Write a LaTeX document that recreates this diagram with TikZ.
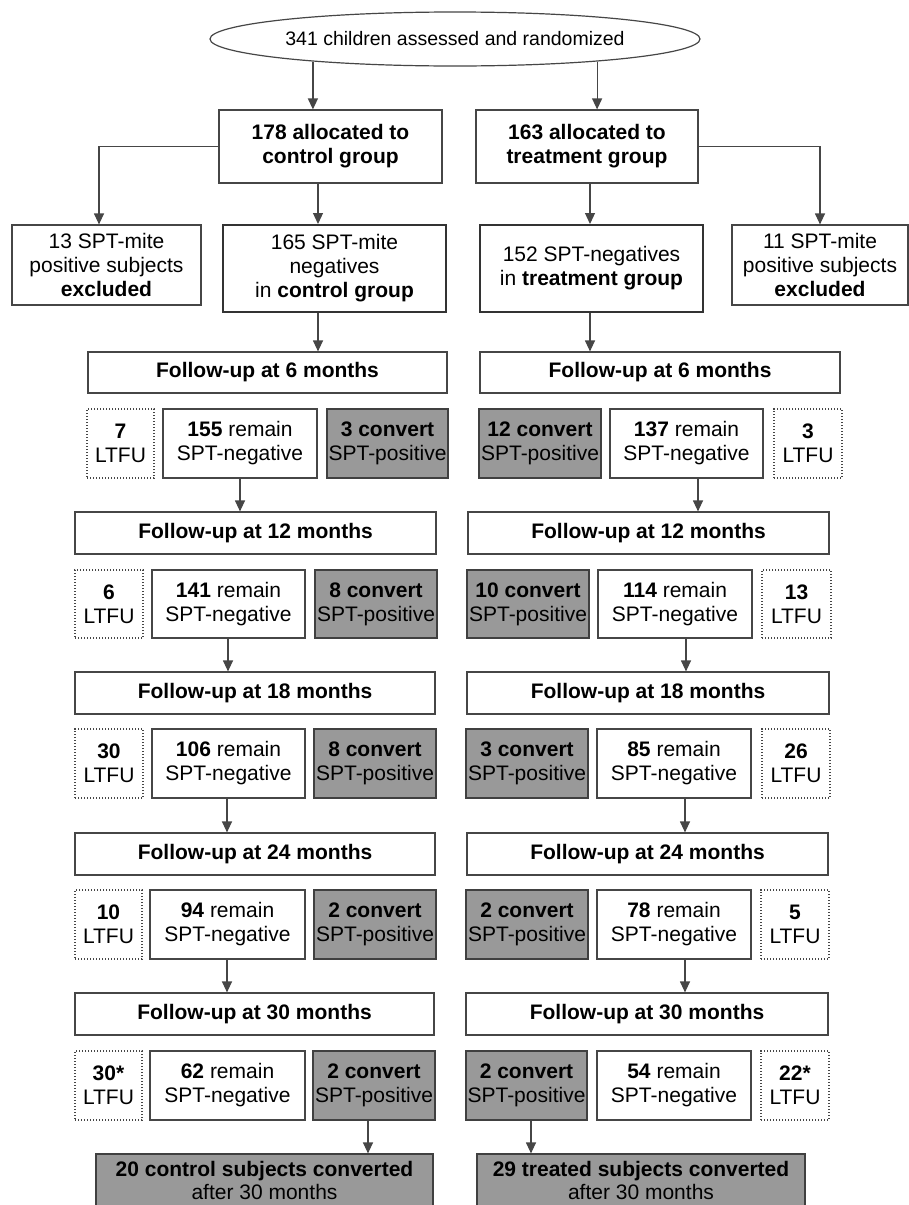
\documentclass[tikz,border=0pt]{standalone}
\usepackage{fontspec}
\setmainfont{Liberation Sans}
\usetikzlibrary{shapes.geometric,arrows.meta}
\definecolor{linec}{RGB}{70,70,70}
\definecolor{convgray}{RGB}{153,153,153}
\tikzset{
  base/.style={draw=linec, line width=1.2pt, inner sep=0pt, align=center,
    font=\fontsize{21}{24}\selectfont, text=black},
  plainbox/.style={base, fill=white},
  heavybox/.style={base, line width=2pt, draw=black!80, fill=white},
  ltfubox/.style={base, dash pattern=on 1.3pt off 1.7pt, line width=1.1pt},
  convbox/.style={base, fill=convgray, draw=black!75},
  arr/.style={draw=linec, line width=1.2pt, -{Triangle[length=11pt,width=10pt]}},
  conn/.style={draw=linec, line width=1.2pt}
}
\newcommand\mybox[7]{\node[#2, minimum width={(#5-#3)*1pt}, minimum height={(#6-#4)*1pt}] (#1) at ({(#3+#5)/2},{(#4+#6)/2}) {#7};}
\begin{document}
\begin{tikzpicture}[x=1pt,y=-1pt]
\useasboundingbox (0,0) rectangle (909,1205);
\clip (0,0) rectangle (909,1205);
\fill[white] (0,0) rectangle (909,1205);

% columns for connectors
\coordinate (cA) at (318,0);
\coordinate (cB) at (590,0);
\coordinate (cX) at (99,0);
\coordinate (cR1) at (698,0);
\coordinate (cR2) at (686,0);
\coordinate (cR3) at (685,0);
\coordinate (cL2) at (228,0);
\coordinate (cL3) at (227,0);
\coordinate (cF1) at (368,0);
\coordinate (cF2) at (531,0);

% top
\node[ellipse, draw=linec, line width=1.2pt, fill=white, minimum width=490pt, minimum height=54pt, inner sep=0pt,
  font=\fontsize{19.5}{23}\selectfont] (ell) at (455,39) {341 children assessed and randomized};

\mybox{b178}{plainbox}{219}{110}{442}{183}{\textbf{178 allocated to}\\\textbf{control group}}
\mybox{b163}{plainbox}{476}{110}{698}{183}{\textbf{163 allocated to}\\\textbf{treatment group}}

\mybox{ex13}{plainbox}{12}{225}{201}{305}{13 SPT-mite\\positive subjects\\\textbf{excluded}}
\mybox{b165}{heavybox}{223}{225}{446}{312}{165 SPT-mite\\negatives\\in \textbf{control group}}
\mybox{b152}{heavybox}{480}{225}{703}{312}{152 SPT-negatives\\in \textbf{treatment group}}
\mybox{ex11}{plainbox}{732}{225}{908}{305}{11 SPT-mite\\positive subjects\\\textbf{excluded}}

% 6 months
\mybox{fu6L}{plainbox}{88}{352}{447}{393}{\textbf{Follow-up at 6 months}}
\mybox{fu6R}{plainbox}{480}{352}{840}{393}{\textbf{Follow-up at 6 months}}
\mybox{l7}{ltfubox}{87}{409}{154}{478}{\textbf{7}\\LTFU}
\mybox{r155}{plainbox}{163}{409}{317}{478}{\textbf{155} remain\\SPT-negative}
\mybox{c3}{convbox}{327}{409}{448}{478}{\textbf{3 convert}\\SPT-positive}
\mybox{c12}{convbox}{479}{409}{601}{478}{\textbf{12 convert}\\SPT-positive}
\mybox{r137}{plainbox}{610}{409}{763}{478}{\textbf{137} remain\\SPT-negative}
\mybox{l3}{ltfubox}{774}{409}{842}{478}{\textbf{3}\\LTFU}

% 12 months
\mybox{fu12L}{plainbox}{75}{512}{436}{554}{\textbf{Follow-up at 12 months}}
\mybox{fu12R}{plainbox}{468}{512}{829}{554}{\textbf{Follow-up at 12 months}}
\mybox{l6}{ltfubox}{75}{570}{143}{638}{\textbf{6}\\LTFU}
\mybox{r141}{plainbox}{152}{570}{305}{638}{\textbf{141} remain\\SPT-negative}
\mybox{c8a}{convbox}{315}{570}{437}{638}{\textbf{8 convert}\\SPT-positive}
\mybox{c10}{convbox}{467}{570}{589}{638}{\textbf{10 convert}\\SPT-positive}
\mybox{r114}{plainbox}{598}{570}{752}{638}{\textbf{114} remain\\SPT-negative}
\mybox{l13}{ltfubox}{762}{570}{831}{638}{\textbf{13}\\LTFU}

% 18 months
\mybox{fu18L}{plainbox}{75}{672}{435}{714}{\textbf{Follow-up at 18 months}}
\mybox{fu18R}{plainbox}{467}{672}{829}{714}{\textbf{Follow-up at 18 months}}
\mybox{l30}{ltfubox}{75}{729}{143}{798}{\textbf{30}\\LTFU}
\mybox{r106}{plainbox}{152}{729}{305}{798}{\textbf{106} remain\\SPT-negative}
\mybox{c8b}{convbox}{314}{729}{436}{798}{\textbf{8 convert}\\SPT-positive}
\mybox{c3b}{convbox}{466}{729}{588}{798}{\textbf{3 convert}\\SPT-positive}
\mybox{r85}{plainbox}{597}{729}{751}{798}{\textbf{85} remain\\SPT-negative}
\mybox{l26}{ltfubox}{762}{729}{830}{798}{\textbf{26}\\LTFU}

% 24 months
\mybox{fu24L}{plainbox}{75}{833}{435}{875}{\textbf{Follow-up at 24 months}}
\mybox{fu24R}{plainbox}{467}{833}{828}{875}{\textbf{Follow-up at 24 months}}
\mybox{l10}{ltfubox}{75}{890}{142}{959}{\textbf{10}\\LTFU}
\mybox{r94}{plainbox}{150}{890}{305}{959}{\textbf{94} remain\\SPT-negative}
\mybox{c2a}{convbox}{314}{890}{436}{959}{\textbf{2 convert}\\SPT-positive}
\mybox{c2b}{convbox}{466}{890}{588}{959}{\textbf{2 convert}\\SPT-positive}
\mybox{r78}{plainbox}{597}{890}{751}{959}{\textbf{78} remain\\SPT-negative}
\mybox{l5}{ltfubox}{761}{890}{829}{959}{\textbf{5}\\LTFU}

% 30 months
\mybox{fu30L}{plainbox}{75}{993}{434}{1035}{\textbf{Follow-up at 30 months}}
\mybox{fu30R}{plainbox}{466}{993}{828}{1035}{\textbf{Follow-up at 30 months}}
\mybox{l30s}{ltfubox}{75}{1051}{142}{1120}{\textbf{30*}\\LTFU}
\mybox{r62}{plainbox}{150}{1051}{305}{1120}{\textbf{62} remain\\SPT-negative}
\mybox{c2c}{convbox}{313}{1051}{435}{1120}{\textbf{2 convert}\\SPT-positive}
\mybox{c2d}{convbox}{466}{1051}{587}{1120}{\textbf{2 convert}\\SPT-positive}
\mybox{r54}{plainbox}{597}{1051}{751}{1120}{\textbf{54} remain\\SPT-negative}
\mybox{l22}{ltfubox}{761}{1051}{829}{1120}{\textbf{22*}\\LTFU}

% final
\mybox{finL}{convbox,font=\fontsize{21}{23}\selectfont}{96}{1154}{433}{1206}{\textbf{20 control subjects converted}\\after 30 months}
\mybox{finR}{convbox,font=\fontsize{21}{23}\selectfont}{477}{1154}{805}{1206}{\textbf{29 treated subjects converted}\\after 30 months}

% connectors
\draw[arr] (ell.189.3) -- (ell.189.3 |- b178.north);
\draw[arr] (ell.-9.46) -- (ell.-9.46 |- b163.north);
\draw[arr] (b178.south -| cA) -- (b165.north -| cA);
\draw[arr] (b163.south -| cB) -- (b152.north -| cB);
\draw[arr] (b178.west) -| (ex13.north -| cX);
\draw[arr] (b163.east) -| (ex11.north);
\draw[arr] (b165.south -| cA) -- (fu6L.north -| cA);
\draw[arr] (b152.south -| cB) -- (fu6R.north -| cB);

\draw[arr] (r155.south) -- (r155.south |- fu12L.north);
\draw[arr] (r137.south -| cR1) -- (fu12R.north -| cR1);
\draw[arr] (r141.south -| cL2) -- (fu18L.north -| cL2);
\draw[arr] (r114.south -| cR2) -- (fu18R.north -| cR2);
\draw[arr] (r106.south -| cL3) -- (fu24L.north -| cL3);
\draw[arr] (r85.south -| cR3) -- (fu24R.north -| cR3);
\draw[arr] (r94.south -| cL3) -- (fu30L.north -| cL3);
\draw[arr] (r78.south -| cR3) -- (fu30R.north -| cR3);
\draw[arr] (c2c.south -| cF1) -- (finL.north -| cF1);
\draw[arr] (c2d.south -| cF2) -- (finR.north -| cF2);
\end{tikzpicture}
\end{document}
